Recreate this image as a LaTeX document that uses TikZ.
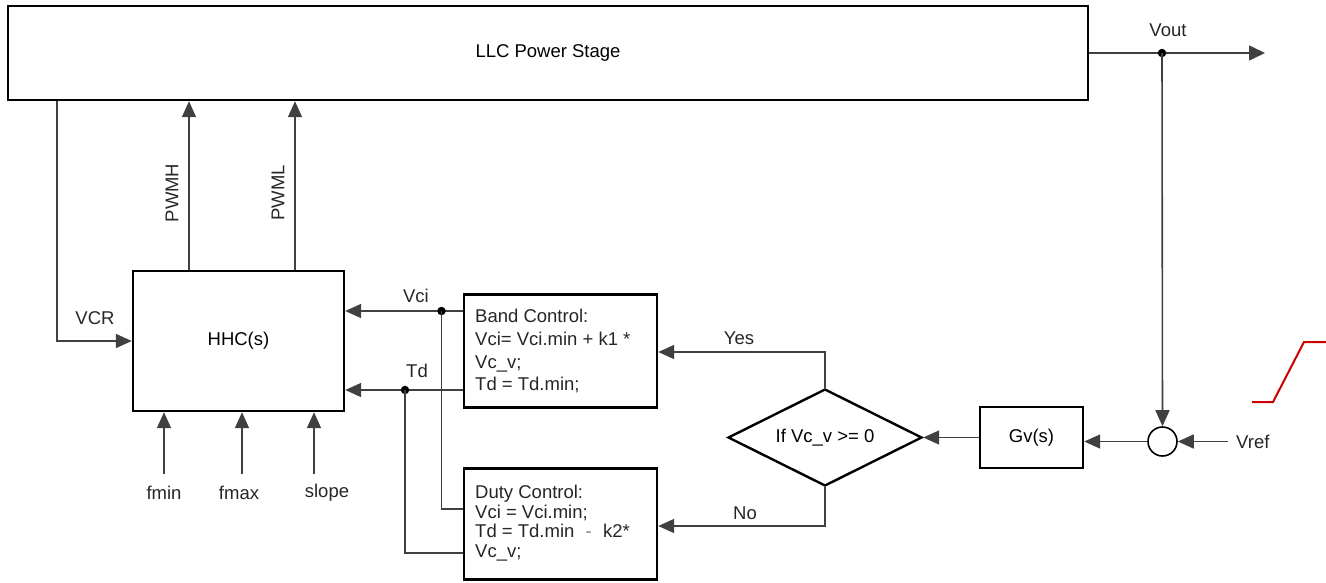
\documentclass[tikz,border=0pt]{standalone}
\usepackage{fontspec}
\setmainfont{Liberation Sans}
\usetikzlibrary{arrows.meta,shapes.geometric}
\begin{document}
\begin{tikzpicture}[x=1pt,y=-1pt,
  font=\fontsize{18.5}{22}\selectfont,
  blk/.style={draw=black,line width=2.4pt,inner sep=0pt,fill=white},
  conn/.style={draw=black!75,line width=1.6pt},
  arr/.style={conn,-{Triangle[length=16pt,width=14pt]}},
  dot/.style={circle,fill=black,inner sep=0pt,minimum size=8.5pt},
  lbl/.style={inner sep=0pt,text=black!85}]
\useasboundingbox (0,0) rectangle (1326,582);
% blocks
\node[blk,minimum width=1080pt,minimum height=94pt] (llc) at (548,53) {LLC Power Stage};
\node[blk,minimum width=211pt,minimum height=140pt] (hhc) at (238.5,341) {HHC(s)};
\node[blk,minimum width=193pt,minimum height=113pt] (band) at (560.5,351) {};
\node[blk,minimum width=193pt,minimum height=111pt] (duty) at (560.5,524) {};
\node[blk,minimum width=103pt,minimum height=61pt] (gv) at (1031.5,437.5) {Gv(s)};
\node[blk,diamond,aspect=2,minimum width=194pt,minimum height=97pt] (dec) at (825,437.5) {If Vc\_v >= 0};
\node[draw=black,line width=1.6pt,circle,minimum size=29pt,inner sep=0pt] (sum) at (1162.5,441.5) {};
% box texts
\node[lbl,anchor=north west,align=left,font=\fontsize{18.5}{22.7}\selectfont] (bandtxt) at (475,309)
  {Band Control:\\Vci= Vci.min + k1 *\\Vc\_v;\\Td = Td.min;};
\node[lbl,anchor=north west,align=left,font=\fontsize{18.5}{19.5}\selectfont] (dutytxt) at (475,485)
  {Duty Control:\\Vci = Vci.min;\\Td = Td.min \,\,{\color{black!50}-}\,\, k2*\\Vc\_v;};
% coordinates
\coordinate (voutdot) at (1162,53);
\coordinate (voutend) at (1265,53);
\coordinate (vrefin) at (1228,441.5);
\coordinate (vcrx) at (57,341);
\coordinate (pwmhx) at (189,0);
\coordinate (pwmlx) at (295,0);
\coordinate (vcidot) at (441.5,311);
\coordinate (tddot) at (405,390);
\coordinate (yescorner) at (825,352);
\coordinate (nocorner) at (825,526);
\coordinate (fminx) at (164,474);
\coordinate (fmaxx) at (242,474);
\coordinate (slopex) at (314,474);
% Vout
\draw[conn,-{Triangle[length=16pt,width=15pt]}] (llc.east |- voutdot) -- (voutend);
\node[dot] (vd) at (voutdot) {};
\node[lbl] (voutl) at (1168,30) {Vout};
\draw[arr] (vd.center) -- (sum.north);
\draw[arr] (vrefin) -- (sum.east);
\node[lbl,anchor=west] (vref) at (1236,442) {Vref};
\draw[arr] (sum.west) -- (gv.east |- sum.west);
\draw[arr] (gv.west) -- (dec.east);
% Yes / No
\draw[arr] (dec.north) -- (yescorner) -- (band.east |- yescorner);
\node[lbl] (yes) at (739,338) {Yes};
\draw[arr] (dec.south) -- (nocorner) -- (duty.east |- nocorner);
\node[lbl] (no) at (745,513) {No};
% Vci and Td
\draw[arr] (band.west |- vcidot) -- (hhc.east |- vcidot);
\node[dot] (vcid) at (vcidot) {};
\node[lbl] (vcil) at (416,296) {Vci};
\draw[conn] (vcid.center) -- (441.5,509) -- (duty.west |- 0,509);
\draw[arr] (band.west |- tddot) -- (hhc.east |- tddot);
\node[dot] (tdd) at (tddot) {};
\node[lbl] (tdl) at (417,371) {Td};
\draw[conn] (tdd.center) -- (405,553) -- (duty.west |- 0,553);
% VCR
\draw[arr] (llc.south -| vcrx) -- (vcrx) -- (hhc.west |- vcrx);
\node[lbl] (vcrl) at (95,318) {VCR};
% PWMH / PWML
\draw[arr] (hhc.north -| pwmhx) -- (llc.south -| pwmhx);
\node[lbl,rotate=90] (pwmhl) at (172,193) {PWMH};
\draw[arr] (hhc.north -| pwmlx) -- (llc.south -| pwmlx);
\node[lbl,rotate=90] (pwmll) at (278,193) {PWML};
% bottom inputs
\draw[arr] (fminx) -- (hhc.south -| fminx);
\node[lbl] (fmin) at (164,493) {fmin};
\draw[arr] (fmaxx) -- (hhc.south -| fmaxx);
\node[lbl] (fmax) at (239,493) {fmax};
\draw[arr] (slopex) -- (hhc.south -| slopex);
\node[lbl] (slope) at (327,493) {slope};
% red curve
\draw[draw={rgb,255:red,204;green,0;blue,0},line width=2pt] (1252,402) -- (1273,402) -- (1304,342) -- (1328,342);
\end{tikzpicture}
\end{document}
